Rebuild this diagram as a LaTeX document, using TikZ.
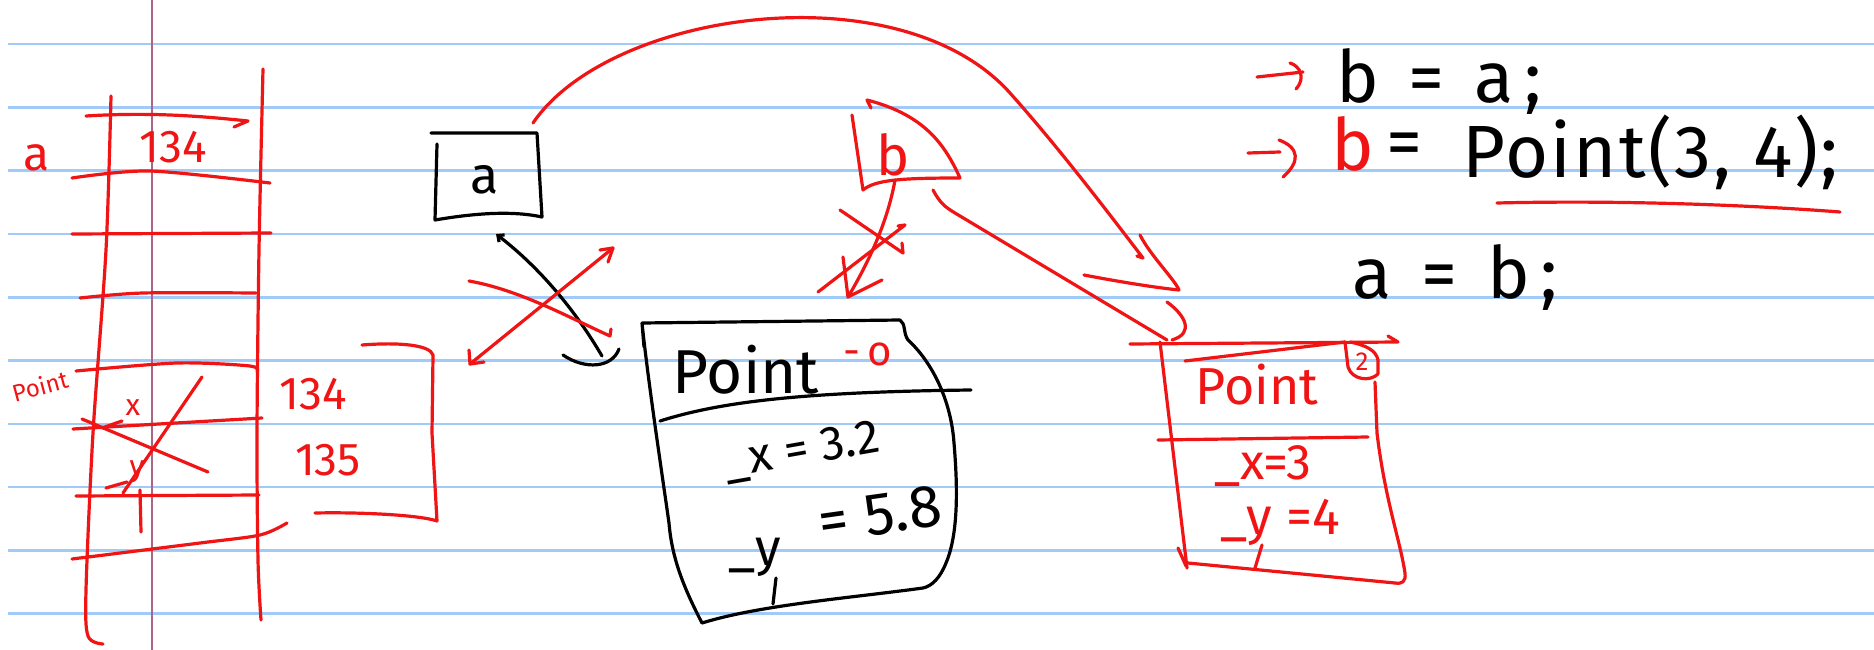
\documentclass[tikz,border=0pt]{standalone}
\usepackage{fontspec}
\setmainfont{Fira Sans}
\usetikzlibrary{positioning,arrows.meta}
\definecolor{inkred}{RGB}{240,20,20}
\definecolor{rulecol}{RGB}{160,202,248}
\definecolor{margincol}{RGB}{172,100,135}

\begin{document}
\begin{tikzpicture}[x=1pt,y=-1pt,
    redink/.style={draw=inkred, line width=3.2pt, line cap=round, line join=round},
    blkink/.style={draw=black, line width=3.2pt, line cap=round, line join=round},
    hand/.style={inner sep=0pt, font=\fontsize{#1}{#1}\selectfont},
    redhand/.style={hand=#1, text=inkred},
    codehand/.style={inner sep=0pt, anchor=base west,
                     font=\fontsize{#1}{#1}\selectfont\addfontfeature{LetterSpace=15}},
    ruleline/.style={draw=rulecol, line width=2.6pt},
    marginline/.style={draw=margincol, line width=2.2pt},
  ]
    % paper
    \fill[white] (0,0) rectangle (1874,650);
    \useasboundingbox (0,0) rectangle (1874,650);
    \foreach \k in {0,...,9}
      \draw[ruleline] (8,{44+63.3*\k}) -- (1874,{44+63.3*\k});
    \draw[marginline] (152,0) -- (152,650);

    % memory column
    \draw[redink] plot[smooth] coordinates {(111,96) (106,250) (93,433) (86,590) (88,636) (103,644)};
    \draw[redink] plot[smooth] coordinates {(263,69) (259,250) (257,433) (258,560) (261,620)};
    \draw[redink] (86,116) .. controls (150,112) and (200,116) .. (248,121) -- (234,127);
    \draw[redink] plot[smooth] coordinates {(72,178) (150,171) (270,183)};
    \draw[redink] (72,234) -- (271,233);
    \draw[redink] plot[smooth] coordinates {(80,298) (143,293) (256,293)};
    \draw[redink] plot[smooth] coordinates {(76,371) (177,363) (250,366) (257,372)};
    \draw[redink] (73,429) -- (262,418);
    \draw[redink] (76,496) -- (259,495);
    \draw[redink] plot[smooth] coordinates {(72,559) (200,543) (260,535) (287,523)};

    \node[redhand=48] (lbla) at (37,158) {a};
    \node[redhand=46] (cella) at (173,147) {134};
    \node[redhand=24, rotate=15] (lblpt) at (40,386) {Point};
    \node[redhand=30] (cellx) at (133,408) {x};
    \node[redhand=30] (celly) at (137,472) {y};
    \draw[redink] (102,428) -- (122,421);
    \draw[redink] (106,488) -- (127,482);
    \draw[redink] (82,419) -- (208,472);
    \draw[redink] (202,377) -- (123,493);
    \draw[redink] (140,490) -- (141,532);
    \node[redhand=46] (oldval) at (313,394) {134};
    \node[redhand=46] (newval) at (328,460) {135};
    \draw[redink] (362,345) .. controls (400,342) and (430,345) .. (433,355)
      -- (432,433) -- (437,521) .. controls (420,515) and (360,512) .. (315,513);

    % variable a
    \draw[blkink] (431,133) -- (537,133) -- (542,217)
      .. controls (510,210) and (470,214) .. (435,220) -- (437,144);
    \node[hand=52] (boxa) at (485,180) {a};

    % first Point object
    \draw[blkink] (642,323) -- (900,320) .. controls (906,324) and (903,333) .. (908,340)
      .. controls (932,362) and (951,400) .. (954,443)
      .. controls (958,490) and (958,535) .. (946,563)
      .. controls (940,578) and (932,586) .. (923,588)
      .. controls (850,598) and (760,605) .. (702,623)
      .. controls (685,590) and (672,560) .. (669,523)
      .. controls (660,460) and (648,380) .. (642,323) -- (644,347);
    \draw[blkink] (660,421) .. controls (720,402) and (800,392) .. (971,390);
    \node[hand=62] (ptA) at (746,370) {Point};
    \node[redhand=42] (tagA) at (868,354) {-\,o};
    \node[hand=48, rotate=10] (xA) at (802,452) {\_x = 3.2};
    \node[hand=52] (yA) at (755,557) {\_y};
    \node[hand=60, rotate=8] (yvalA) at (880,514) {= 5.8};
    \draw[blkink] (776,578) -- (773,604);

    % pointer from the object back to a
    \coordinate (curlA) at (602,356);
    \draw[blkink, -{Straight Barb[length=5pt,width=9pt]}] (curlA)
      .. controls (575,310) and (540,268) .. (496,234);
    \draw[blkink] (563,355) .. controls (585,370) and (612,368) .. (619,349);

    % crossed out pointers
    \draw[redink] (469,281) .. controls (520,290) and (570,318) .. (610,336) -- (611,329);
    \draw[redink] (470,364) -- (613,248);
    \draw[redink] (600,250) -- (613,248) -- (608,262);
    \draw[redink] (469,350) -- (470,364) -- (484,362);

    % variable b
    \node[redhand=56] (bvar) at (893,155) {b};
    \draw[redink] (852,115) -- (863,190) .. controls (875,180) and (900,178) .. (960,178)
      .. controls (945,145) and (925,115) .. (867,100) -- (871,108);
    \coordinate (bfoot) at (895,180);
    \coordinate (ptAtop) at (848,297);
    \draw[redink] (bfoot) .. controls (888,220) and (870,260) .. (ptAtop);
    \draw[redink] (843,257) -- (ptAtop) -- (882,280);
    \draw[redink] (840,210) -- (903,253) -- (902,243);
    \draw[redink] (818,292) -- (905,225) -- (898,226);

    % b to second Point
    \coordinate (btail) at (933,190);
    \coordinate (ptBcorner) at (1167,340);
    \draw[redink] (btail) .. controls (940,203) and (945,207) .. (955,213) -- (ptBcorner);
    \draw[redink] (1167,302) .. controls (1185,315) and (1195,333) .. (1172,340);

    % a to second Point
    \coordinate (arcstart) at (533,123);
    \draw[redink] (arcstart) .. controls (610,10) and (900,-30) .. (1010,93)
      .. controls (1060,149) and (1110,215) .. (1143,258) -- (1137,256);
    \draw[redink] (1140,235) .. controls (1150,255) and (1175,280) .. (1179,290)
      .. controls (1150,287) and (1110,280) .. (1084,275);

    % second Point object
    \draw[redink] (1130,344) -- (1398,342) -- (1388,336);
    \draw[redink] (1185,361) -- (1345,342);
    \draw[redink] (1345,342) -- (1348,367) .. controls (1352,380) and (1370,382) .. (1378,374)
      -- (1378,360) .. controls (1376,350) and (1365,345) .. (1350,342);
    \draw[redink] (1375,382) -- (1377,433) .. controls (1385,500) and (1400,540) .. (1405,573)
      .. controls (1406,582) and (1402,584) .. (1395,583);
    \draw[redink] (1188,563) -- (1395,583);
    \draw[redink] (1160,342) -- (1187,568);
    \draw[redink] (1178,548) -- (1186,566);
    \draw[redink] (1158,440) -- (1368,437);
    \node[redhand=52] (ptB) at (1257,385) {Point};
    \node[redhand=26] (tagB) at (1362,362) {2};
    \node[redhand=50] (xB) at (1263,466) {\_x=3};
    \node[redhand=52] (yB) at (1280,522) {\_y =4};
    \draw[redink] (1262,545) -- (1255,568);

    % code
    \draw[redink] (1257,77) -- (1303,72);
    \draw[redink] (1290,63) .. controls (1300,66) and (1306,78) .. (1296,89);
    \node[codehand=72] (lineone) at (1336,103) {b = a;};
    \draw[redink] (1248,153) -- (1280,152);
    \draw[redink] (1279,140) .. controls (1300,148) and (1300,162) .. (1283,177);
    \node[codehand=72, text=inkred] (bred) at (1331,170) {b};
    \node[hand=72] (eqtwo) at (1404,150) {=};
    \node[inner sep=0pt, anchor=base west,
          font=\fontsize{74}{74}\selectfont\addfontfeature{LetterSpace=3}] (ctor) at (1462,178) {Point(3, 4);};
    \draw[redink] (1497,203) .. controls (1620,200) and (1750,205) .. (1840,212);
    \node[codehand=72] (linethree) at (1352,298) {a = b;};
\end{tikzpicture}
\end{document}
